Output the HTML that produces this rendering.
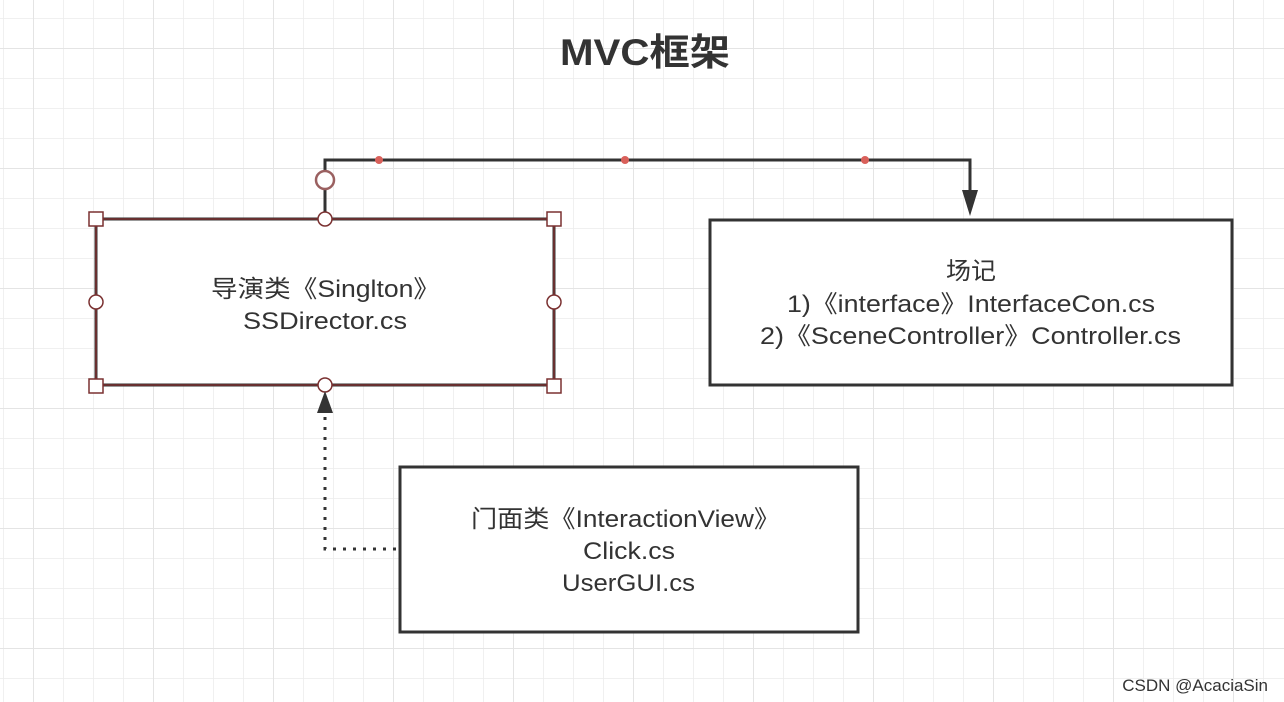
<!DOCTYPE html>
<html><head><meta charset="utf-8"><style>
html,body{margin:0;padding:0;background:#fff;}
svg{display:block}
text{font-family:"Liberation Sans","Noto Sans CJK SC",sans-serif;fill:#333;}
</style></head><body>
<svg width="1284" height="702" viewBox="0 0 1284 702" xmlns="http://www.w3.org/2000/svg">
<defs>
<pattern id="g" x="3" y="18" width="30" height="30" patternUnits="userSpaceOnUse">
<path d="M0 0H30M0 0V30" stroke="#ececec" stroke-width="1.5" fill="none"/>
</pattern>
<pattern id="G" x="33" y="48" width="120" height="120" patternUnits="userSpaceOnUse">
<path d="M0 0H120M0 0V120" stroke="#e4e4e4" stroke-width="2" fill="none"/>
</pattern>
</defs>
<rect width="1284" height="702" fill="url(#g)"/>
<rect width="1284" height="702" fill="url(#G)"/>
<text x="560" y="65" font-size="37" font-weight="bold" textLength="170" lengthAdjust="spacingAndGlyphs">MVC框架</text>

<path d="M325 219V160H970V205" stroke="#333" stroke-width="3" fill="none"/>
<polygon points="962,190 978,190 970,216" fill="#333"/>
<circle cx="379" cy="160" r="4" fill="#d9605a"/>
<circle cx="625" cy="160" r="4" fill="#d9605a"/>
<circle cx="865" cy="160" r="4" fill="#d9605a"/>
<circle cx="325" cy="180" r="9" fill="#fff" stroke="#9a6060" stroke-width="2.5"/>

<rect x="96" y="219" width="458" height="166" fill="#fff" stroke="#333" stroke-width="3"/>
<rect x="96" y="219" width="458" height="166" fill="none" stroke="#7a3030" stroke-width="1.5"/>
<text x="211" y="297" font-size="24" textLength="229" lengthAdjust="spacingAndGlyphs">导演类《Singlton》</text>
<text x="243" y="329" font-size="24" textLength="164" lengthAdjust="spacingAndGlyphs">SSDirector.cs</text>
<g fill="#fff" stroke="#7a3030" stroke-width="1.5">
<rect x="89" y="212" width="14" height="14"/><rect x="547" y="212" width="14" height="14"/>
<rect x="89" y="379" width="14" height="14"/><rect x="547" y="379" width="14" height="14"/>
<circle cx="325" cy="219" r="7"/><circle cx="325" cy="385" r="7"/>
<circle cx="96" cy="302" r="7"/><circle cx="554" cy="302" r="7"/>
</g>

<rect x="710" y="220" width="522" height="165" fill="#fff" stroke="#333" stroke-width="3"/>
<text x="946" y="279" font-size="24" textLength="50" lengthAdjust="spacingAndGlyphs">场记</text>
<text x="787" y="312" font-size="24" textLength="368" lengthAdjust="spacingAndGlyphs">1)《interface》InterfaceCon.cs</text>
<text x="760" y="344" font-size="24" textLength="421" lengthAdjust="spacingAndGlyphs">2)《SceneController》Controller.cs</text>

<path d="M325 417V549H398" stroke="#333" stroke-width="3" fill="none" stroke-dasharray="3 7"/>
<polygon points="317,413 333,413 325,391" fill="#333"/>

<rect x="400" y="467" width="458" height="165" fill="#fff" stroke="#333" stroke-width="3"/>
<text x="471" y="527" font-size="24" textLength="309" lengthAdjust="spacingAndGlyphs">门面类《InteractionView》</text>
<text x="583" y="559" font-size="24" textLength="92" lengthAdjust="spacingAndGlyphs">Click.cs</text>
<text x="562" y="591" font-size="24" textLength="133" lengthAdjust="spacingAndGlyphs">UserGUI.cs</text>

<text x="1268" y="691" font-size="17" text-anchor="end" fill="#999">CSDN @AcaciaSin</text>
</svg>
</body></html>
